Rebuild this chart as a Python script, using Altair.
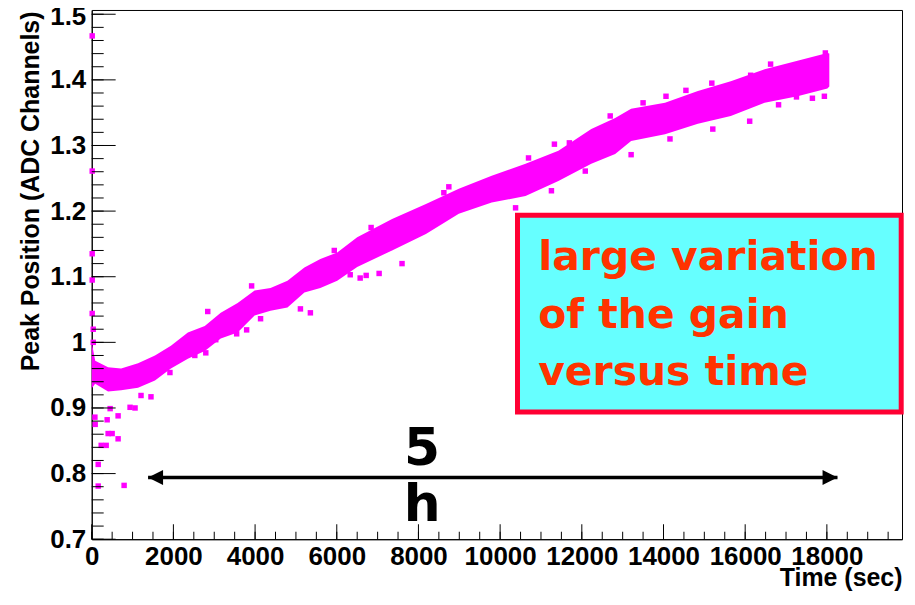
import altair as alt
import pandas as pd

# ---- data ----
band_t = [0, 85, 400, 720, 1134, 1549, 1939, 2354, 2768, 3159, 3573, 3988, 4378, 4793,
          5207, 5598, 6012, 6500, 7354, 8183, 8988, 9793, 10622, 11427, 12232, 12817,
          13207, 14037, 14842, 15647, 16476, 17281, 18013, 18060]
band_hi = [1.000, 0.972, 0.962, 0.960, 0.968, 0.980, 0.995, 1.015, 1.025, 1.045, 1.060,
           1.079, 1.083, 1.094, 1.114, 1.127, 1.137, 1.160, 1.188, 1.211, 1.234, 1.254,
           1.272, 1.292, 1.325, 1.342, 1.356, 1.365, 1.383, 1.398, 1.416, 1.429, 1.441, 1.440]
band_lo = [0.930, 0.937, 0.925, 0.927, 0.931, 0.942, 0.960, 0.975, 0.987, 1.006, 1.015,
           1.041, 1.048, 1.053, 1.076, 1.083, 1.094, 1.115, 1.140, 1.165, 1.196, 1.213,
           1.223, 1.246, 1.272, 1.287, 1.307, 1.317, 1.333, 1.345, 1.365, 1.375, 1.387, 1.390]

out_t = [12, 12, 12, 12, 12, 37, 37, 78, 85, 159, 159, 232, 354, 378, 402, 500, 646, 793,
         646, 451, 1061, 939, 1207, 1451, 1915, 2524, 2793, 3037, 3549, 3793, 4134, 5110,
         5354, 5939, 6329, 6573, 2841, 3915, 6841, 7037, 6720, 7598, 8622, 8744, 10378,
         10695, 11256, 11329, 11695, 12695, 12085, 13207, 13500, 14061, 14159, 14549,
         15183, 15207, 16110, 16134, 16817, 17256, 17646, 17939, 17963, 16622]
out_v = [1.467, 1.261, 1.135, 1.095, 1.044, 1.020, 1.000, 0.886, 0.875, 0.814, 0.781,
         0.843, 0.843, 0.882, 0.861, 0.861, 0.853, 0.782, 0.888, 0.899, 0.900, 0.901,
         0.919, 0.917, 0.954, 0.980, 0.984, 1.004, 1.013, 1.019, 1.036, 1.051, 1.045,
         1.140, 1.103, 1.098, 1.047, 1.086, 1.175, 1.105, 1.102, 1.120, 1.228, 1.237,
         1.205, 1.281, 1.231, 1.302, 1.304, 1.345, 1.261, 1.286, 1.365, 1.375, 1.310,
         1.384, 1.395, 1.325, 1.337, 1.407, 1.362, 1.374, 1.372, 1.375, 1.441, 1.424]

x_major = [0, 2000, 4000, 6000, 8000, 10000, 12000, 14000, 16000, 18000]
x_minor = list(range(0, 19801, 500))
y_major = [0.7, 0.8, 0.9, 1.0, 1.1, 1.2, 1.3, 1.4, 1.5]
y_minor = [round(0.7 + 0.02 * i, 2) for i in range(41)]

arrow_t = [1380, 18260]
arrow_v = [0.794, 0.794]
mark_labels = ["5", "h"]
mark_labels_t = [8089, 8089]
mark_labels_v = [0.8124, 0.7278]

box_x = [10425, 19820]
box_y = [0.8937, 1.1936]
box_lines = ["large variation", "of the gain", "versus time"]
box_lines_t = [10932, 10932, 10932]
box_lines_v = [1.1101, 1.0220, 0.9354]

# ---- chart ----
W, H = 813, 531
FONT = "Liberation Sans"
xs = alt.Scale(domain=[0, 19840], nice=False, zero=False)
ys = alt.Scale(domain=[0.7, 1.5065], nice=False, zero=False)

xaxis = alt.Axis(values=x_major, title="Time (sec)", grid=False, ticks=False, tickSize=0,
                 domainColor="black", domainWidth=1,
                 labelFont=FONT, labelFontSize=26, labelFontWeight="bold", labelColor="black",
                 labelPadding=4, labelFlush=False, labelOverlap=False, format="d",
                 titleFont=FONT, titleFontSize=25, titleFontWeight="bold", titleColor="black",
                 titleAnchor="end", titleAlign="right", titleBaseline="alphabetic",
                 titleX=W, titleY=46)
yaxis = alt.Axis(values=y_major, title="Peak Position (ADC Channels)", grid=False, ticks=False,
                 tickSize=0, domainColor="black", domainWidth=1,
                 labelFont=FONT, labelFontSize=26, labelFontWeight="bold", labelColor="black",
                 labelPadding=6, labelFlush=False, labelOverlap=False, format=".1~f",
                 labelOffset={"condition": {"test": "datum.value > 1.45", "value": 2}, "value": 0},
                 titleFont=FONT, titleFontSize=25, titleFontWeight="bold", titleColor="black",
                 titleAngle=270, titleAlign="right", titleBaseline="alphabetic",
                 titleX=-53, titleY=1)


def X(f):
    return alt.X(f, type="quantitative", scale=xs, axis=xaxis)


def Y(f):
    return alt.Y(f, type="quantitative", scale=ys, axis=yaxis)


band_df = pd.DataFrame({"t": band_t, "hi": band_hi, "lo": band_lo})
pts_df = pd.DataFrame({"t": out_t, "v": out_v})

band = alt.Chart(band_df).mark_area(color="#FF00FF", opacity=1).encode(
    x=X("t"), y=Y("hi"), y2=alt.Y2("lo"))
pts = alt.Chart(pts_df).mark_square(size=30, color="#FF00FF", opacity=1).encode(
    x=X("t"), y=Y("v"))

box = alt.Chart(pd.DataFrame({"x1": [box_x[0]], "x2": [box_x[1]],
                              "y1": [box_y[0]], "y2": [box_y[1]]})).mark_rect(
    fill="#66FFFF", stroke="#FF0033", strokeWidth=5).encode(
    x=X("x1"), x2="x2", y=Y("y1"), y2="y2")
box_text = alt.Chart(pd.DataFrame({"t": box_lines_t, "v": box_lines_v, "s": box_lines})).mark_text(
    align="left", baseline="alphabetic", font="DejaVu Sans", fontSize=41, fontWeight="bold",
    color="#FF3300").encode(x=X("t"), y=Y("v"), text="s:N")

arrow_df = pd.DataFrame({"t": arrow_t, "v": arrow_v})
arrow = alt.Chart(arrow_df).mark_line(color="black", strokeWidth=3.5).encode(x=X("t"), y=Y("v"))
head_l = alt.Chart(arrow_df.iloc[[0]]).mark_point(
    shape="M0,0L1,-0.5L1,0.5Z", filled=True, color="black", opacity=1, size=900).encode(
    x=X("t"), y=Y("v"))
head_r = alt.Chart(arrow_df.iloc[[1]]).mark_point(
    shape="M0,0L-1,-0.5L-1,0.5Z", filled=True, color="black", opacity=1, size=900).encode(
    x=X("t"), y=Y("v"))
hours = alt.Chart(pd.DataFrame({"t": mark_labels_t, "v": mark_labels_v, "s": mark_labels})).mark_text(
    align="center", baseline="alphabetic", font="DejaVu Sans", fontSize=52, fontWeight="bold",
    color="black").encode(x=X("t"), y=Y("v"), text="s:N")

xt_major = alt.Chart(pd.DataFrame({"t": x_major})).mark_rule(color="black", strokeWidth=1).encode(
    x=X("t"), y=alt.value(H), y2=alt.value(H - 15))
xt_minor = alt.Chart(pd.DataFrame({"t": x_minor})).mark_rule(color="black", strokeWidth=1).encode(
    x=X("t"), y=alt.value(H), y2=alt.value(H - 7.5))
yt_major = alt.Chart(pd.DataFrame({"v": y_major})).mark_rule(color="black", strokeWidth=1).encode(
    y=Y("v"), x=alt.value(0), x2=alt.value(24))
yt_minor = alt.Chart(pd.DataFrame({"v": y_minor})).mark_rule(color="black", strokeWidth=1).encode(
    y=Y("v"), x=alt.value(0), x2=alt.value(12))

chart = alt.layer(
    band, pts, box, box_text, arrow, head_l, head_r, hours,
    xt_minor, xt_major, yt_minor, yt_major
).properties(
    width=W, height=H,
    padding={"left": 84, "top": 1, "right": 5, "bottom": 58},
    autosize=alt.AutoSizeParams(type="none"),
    background="white",
).configure_view(stroke="black", strokeWidth=1)

chart.save("out.html", embed_options={"renderer": "svg", "actions": False})
